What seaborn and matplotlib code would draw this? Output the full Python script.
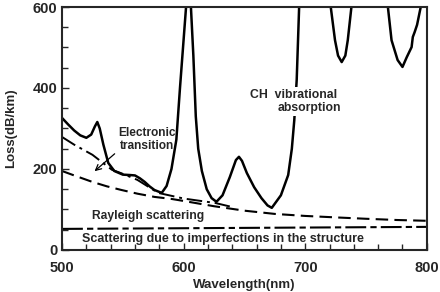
import numpy as np
import pandas as pd
import matplotlib
matplotlib.use('Agg')
import matplotlib.pyplot as plt
import seaborn as sns

sns.set_style('ticks')
plt.rcParams['font.family'] = ['Liberation Sans', 'DejaVu Sans']
plt.rcParams['font.weight'] = 'bold'

# total measured loss (solid), values above 600 run off the top of the frame
total_wl = [500, 505, 510, 515, 520, 524, 527, 529, 531, 534, 538, 543, 550, 556, 560, 564,
            568, 572, 576, 582, 586, 590, 594, 597, 600, 602, 604, 606, 608, 610, 612, 615,
            619, 623, 627, 632, 638, 643, 645.5, 648, 652, 658, 664, 669, 672.5, 680, 686,
            689, 691, 693, 695, 697, 719, 721, 724.5, 727, 730, 733, 735, 738, 740, 766,
            768, 771, 776, 780, 783.5, 787.5, 788.5, 790, 792, 795, 797]
total_loss = [326, 310, 295, 283, 277, 285, 305, 316, 300, 260, 215, 195, 186, 185, 184, 177,
              168, 157, 148, 141, 158, 200, 272, 400, 520, 600, 640, 600, 480, 330, 250, 195,
              150, 128, 119, 135, 180, 222, 230, 220, 190, 155, 128, 110, 104, 135, 185,
              250, 320, 420, 600, 680, 680, 600, 518, 480, 464, 480, 518, 600, 680, 680,
              600, 518, 469, 452, 476, 501, 526, 538, 556, 600, 680]

# electronic transition + Rayleigh (dash-dot)
elec_wl = [500, 510, 525, 541, 550, 562, 579, 600, 626, 640]
elec_loss = [279, 260, 235, 198, 188, 173, 141, 127, 116, 106]

# Rayleigh scattering (dashed)
ray_wl = [500, 510, 525, 537, 549, 562, 576, 590, 600, 625, 650, 675, 700, 728, 750, 775, 800]
ray_loss = [195, 184, 168, 157, 148, 139, 131, 126, 121, 108, 97, 89, 84, 80, 77, 74, 72]

# scattering due to imperfections (long dash - short dash)
imp_wl = [500, 800]
imp_loss = [52, 57]

fig = plt.figure(figsize=(4.4, 2.92), dpi=100)
ax = fig.add_axes([0.141, 0.144, 0.829, 0.832])

sns.lineplot(x=total_wl, y=total_loss, estimator=None, sort=False, color='black', lw=1.8, ax=ax)
sns.lineplot(x=elec_wl, y=elec_loss, estimator=None, color='black', lw=1.4, ax=ax,
             dashes=False, linestyle=(0, (8, 2.5, 1.5, 2.5)))
sns.lineplot(x=ray_wl, y=ray_loss, estimator=None, color='black', lw=1.5, ax=ax,
             linestyle=(0, (6, 3)))
sns.lineplot(x=imp_wl, y=imp_loss, estimator=None, color='black', lw=1.5, ax=ax,
             linestyle=(0, (10, 2, 3, 2)))

ax.set_xlim(500, 800)
ax.set_ylim(0, 600)
ax.set_xticks([500, 600, 700, 800])
ax.set_xticks(np.arange(500, 801, 20), minor=True)
ax.set_yticks([0, 200, 400, 600])
ax.set_yticks(np.arange(0, 601, 50), minor=True)
ax.tick_params(which='both', direction='in', labelsize=10.5, width=1)
ax.tick_params(which='major', length=5)
ax.tick_params(which='minor', length=4)
ax.tick_params(axis='x', pad=8)
for lab in ax.get_xticklabels() + ax.get_yticklabels():
    lab.set_fontweight('bold')
for sp in ax.spines.values():
    sp.set_linewidth(1.5)
    sp.set_visible(True)

ax.set_xlabel('Wavelength(nm)', fontsize=9.5, fontweight='bold', labelpad=3)
ax.set_ylabel('Loss(dB/km)', fontsize=9.5, fontweight='bold', labelpad=11)

bb = dict(facecolor='white', edgecolor='none', pad=1.5)
ax.text(570.5, 84, 'Rayleigh scattering', ha='center', va='center', fontsize=8.7)
ax.text(632, 27, 'Scattering due to imperfections in the structure', ha='center', va='center',
        fontsize=9.0)
ax.text(570, 273, 'Electronic\ntransition', ha='center', va='center', linespacing=1.05,
        fontsize=8.6)
ax.annotate('', xy=(525, 190), xytext=(545, 242),
            arrowprops=dict(arrowstyle='->', color='black', lw=0.9))
ax.text(654.5, 383, 'CH  vibrational', ha='left', va='center', bbox=bb, zorder=5, fontsize=8.8)
ax.text(677.5, 351, 'absorption', ha='left', va='center', bbox=bb, zorder=5, fontsize=8.8)

fig.savefig('out.png', dpi=100)
